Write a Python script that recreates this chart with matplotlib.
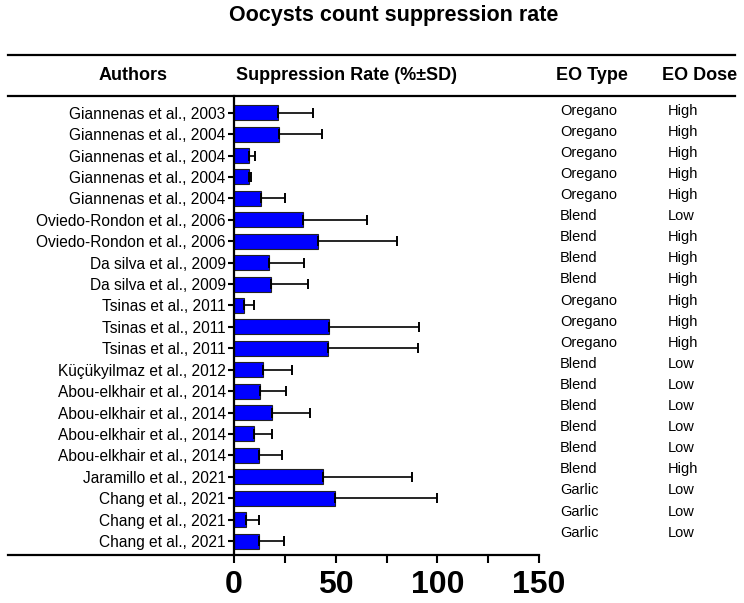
import matplotlib
matplotlib.use("Agg")
import matplotlib.pyplot as plt
from matplotlib.lines import Line2D
from matplotlib.ticker import MultipleLocator
import numpy as np

plt.rcParams["font.family"] = ["Liberation Sans", "DejaVu Sans"]

W, H = 744, 603

authors = [
    "Giannenas et al., 2003", "Giannenas et al., 2004", "Giannenas et al., 2004",
    "Giannenas et al., 2004", "Giannenas et al., 2004", "Oviedo-Rondon et al., 2006",
    "Oviedo-Rondon et al., 2006", "Da silva et al., 2009", "Da silva et al., 2009",
    "Tsinas et al., 2011", "Tsinas et al., 2011", "Tsinas et al., 2011",
    "Küçükyilmaz et al., 2012", "Abou-elkhair et al., 2014", "Abou-elkhair et al., 2014",
    "Abou-elkhair et al., 2014", "Abou-elkhair et al., 2014", "Jaramillo et al., 2021",
    "Chang et al., 2021", "Chang et al., 2021", "Chang et al., 2021",
]
rate = [21.6, 22.0, 7.5, 7.2, 13.4, 34.1, 41.3, 17.4, 18.3, 4.9, 46.5,
        46.2, 14.4, 12.9, 18.8, 9.8, 12.1, 43.9, 49.7, 6.1, 12.3]
sd = [17.1, 21.1, 2.8, 1.0, 11.8, 31.1, 38.7, 17.0, 17.9, 4.9, 44.6,
      44.1, 14.1, 12.5, 18.7, 8.9, 11.3, 43.8, 50.1, 6.3, 12.4]
eo_type = ["Oregano"] * 5 + ["Blend"] * 4 + ["Oregano"] * 3 + ["Blend"] * 6 + ["Garlic"] * 3
eo_dose = ["High"] * 5 + ["Low"] + ["High"] * 6 + ["Low"] * 5 + ["High"] + ["Low"] * 3
headers = ["Authors", "Suppression Rate (%±SD)", "EO Type", "EO Dose"]
xticks = [0, 50, 100, 150]


def fx(px):
    return px / W


def fy(py):
    return 1 - py / H


fig = plt.figure(figsize=(W / 100, H / 100), dpi=100)
ax = fig.add_axes([fx(234), fy(555), fx(539) - fx(234), fy(96) - fy(555)])

y = np.arange(len(authors))
ax.barh(y, rate, height=0.7, color="#0000FF", edgecolor="#222222", linewidth=0.8, zorder=2)
ax.errorbar(rate, y, xerr=[np.zeros(len(sd)), sd], fmt="none", ecolor="black",
            elinewidth=1.2, capsize=3.5, capthick=1.4, zorder=3)

ax.set_xlim(0, 150)
ax.set_ylim(20.65, -0.78)
ax.set_yticks(y)
ax.set_yticklabels(authors, fontsize=11.2)
ax.set_xticks(xticks)
ax.set_xticklabels([str(t) for t in xticks], fontsize=23, fontweight="bold")
ax.xaxis.set_minor_locator(MultipleLocator(25))
ax.tick_params(axis="y", length=4, width=1.5, pad=2)
ax.tick_params(axis="x", which="major", length=6, width=1.5, pad=5)
ax.tick_params(axis="x", which="minor", length=6, width=1.5)
for s in ["top", "right"]:
    ax.spines[s].set_visible(False)
for s in ["left", "bottom"]:
    ax.spines[s].set_linewidth(1.6)

# table rules
for py, x1 in [(55, 735), (96, 735), (555, 234)]:
    fig.add_artist(Line2D([fx(8), fx(x1)], [fy(py), fy(py)], color="black",
                          linewidth=1.6, transform=fig.transFigure))

fig.text(fx(394), fy(16), "Oocysts count suppression rate", ha="center", va="center",
         fontsize=15.5, fontweight="bold")
for label, px in zip(headers, [133, 346, 592, 700]):
    fig.text(fx(px), fy(76), label, ha="center", va="center", fontsize=13, fontweight="bold")

for i, (t, d) in enumerate(zip(eo_type, eo_dose)):
    py = 110.6 + i * 21.1
    fig.text(fx(560), fy(py), t, ha="left", va="center", fontsize=10.5)
    fig.text(fx(668), fy(py), d, ha="left", va="center", fontsize=10.5)

fig.savefig("out.png", dpi=100)
